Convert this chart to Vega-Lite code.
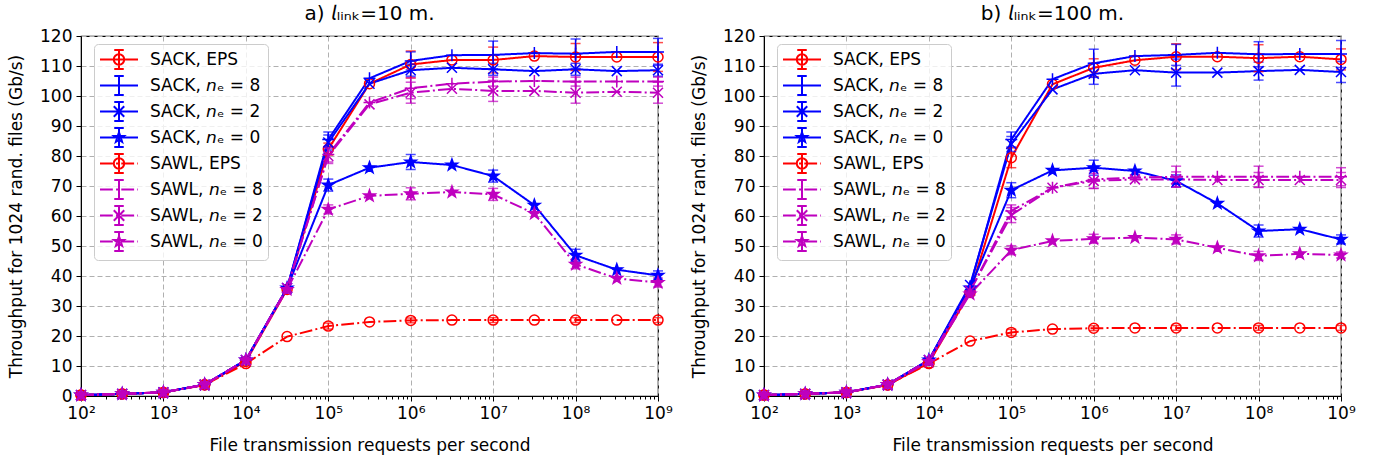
{
  "$schema": "https://vega.github.io/schema/vega-lite/v6.json",
  "padding": {"left": 6, "top": 3, "right": 5, "bottom": 5},
  "spacing": 16,
  "config": {
    "font": "DejaVu Sans",
    "view": {"stroke": "#000000", "strokeWidth": 1.2},
    "axis": {"labelFontSize": 17, "titleFontSize": 17, "titleFontWeight": "normal", "labelColor": "#000000", "titleColor": "#000000", "tickColor": "#000000", "domainColor": "#000000", "gridColor": "#b0b0b0", "gridDash": [5, 3], "gridWidth": 1, "tickSize": 5, "labelPadding": 4, "labelFont": "DejaVu Sans", "titleFont": "DejaVu Sans"},
    "title": {"fontSize": 20, "fontWeight": "normal", "color": "#000000", "font": "DejaVu Sans", "offset": 3}
  },
  "datasets": {
    "a": [
      {"s":"SACK, EPS","x":100,"y":0.3,"e":0.2},{"s":"SACK, EPS","x":316.2,"y":0.7},{"s":"SACK, EPS","x":1e3,"y":1.2,"e":0.3},{"s":"SACK, EPS","x":3162,"y":3.8},{"s":"SACK, EPS","x":1e4,"y":11.5,"e":0.6},{"s":"SACK, EPS","x":31623,"y":35.5},{"s":"SACK, EPS","x":1e5,"y":82.3,"e":2},{"s":"SACK, EPS","x":316228,"y":104.1},{"s":"SACK, EPS","x":1e6,"y":110.5,"e":4.5},{"s":"SACK, EPS","x":3162278,"y":112.0},{"s":"SACK, EPS","x":1e7,"y":112.0,"e":4.3},{"s":"SACK, EPS","x":31622777,"y":113.3},{"s":"SACK, EPS","x":1e8,"y":113.0,"e":4.5},{"s":"SACK, EPS","x":316227766,"y":113.0},{"s":"SACK, EPS","x":1e9,"y":113.0,"e":4.8},
      {"s":"SACK, 𝘯ₑ = 8","x":100,"y":0.3,"e":0.2},{"s":"SACK, 𝘯ₑ = 8","x":316.2,"y":0.7},{"s":"SACK, 𝘯ₑ = 8","x":1e3,"y":1.2,"e":0.3},{"s":"SACK, 𝘯ₑ = 8","x":3162,"y":3.8},{"s":"SACK, 𝘯ₑ = 8","x":1e4,"y":12.0,"e":0.6},{"s":"SACK, 𝘯ₑ = 8","x":31623,"y":36.0},{"s":"SACK, 𝘯ₑ = 8","x":1e5,"y":85.5,"e":2.5},{"s":"SACK, 𝘯ₑ = 8","x":316228,"y":105.9},{"s":"SACK, 𝘯ₑ = 8","x":1e6,"y":111.7,"e":3},{"s":"SACK, 𝘯ₑ = 8","x":3162278,"y":113.6},{"s":"SACK, 𝘯ₑ = 8","x":1e7,"y":113.7,"e":4.6},{"s":"SACK, 𝘯ₑ = 8","x":31622777,"y":114.3},{"s":"SACK, 𝘯ₑ = 8","x":1e8,"y":114.1,"e":4.9},{"s":"SACK, 𝘯ₑ = 8","x":316227766,"y":114.7},{"s":"SACK, 𝘯ₑ = 8","x":1e9,"y":114.7,"e":4.5},
      {"s":"SACK, 𝘯ₑ = 2","x":100,"y":0.3,"e":0.2},{"s":"SACK, 𝘯ₑ = 2","x":316.2,"y":0.7},{"s":"SACK, 𝘯ₑ = 2","x":1e3,"y":1.2,"e":0.3},{"s":"SACK, 𝘯ₑ = 2","x":3162,"y":3.8},{"s":"SACK, 𝘯ₑ = 2","x":1e4,"y":12.0,"e":0.6},{"s":"SACK, 𝘯ₑ = 2","x":31623,"y":36.0},{"s":"SACK, 𝘯ₑ = 2","x":1e5,"y":84.5,"e":2.5},{"s":"SACK, 𝘯ₑ = 2","x":316228,"y":104.1},{"s":"SACK, 𝘯ₑ = 2","x":1e6,"y":108.6,"e":2},{"s":"SACK, 𝘯ₑ = 2","x":3162278,"y":109.4},{"s":"SACK, 𝘯ₑ = 2","x":1e7,"y":108.9,"e":2},{"s":"SACK, 𝘯ₑ = 2","x":31622777,"y":108.3},{"s":"SACK, 𝘯ₑ = 2","x":1e8,"y":108.9,"e":2},{"s":"SACK, 𝘯ₑ = 2","x":316227766,"y":108.3},{"s":"SACK, 𝘯ₑ = 2","x":1e9,"y":108.6,"e":2},
      {"s":"SACK, 𝘯ₑ = 0","x":100,"y":0.3,"e":0.2},{"s":"SACK, 𝘯ₑ = 0","x":316.2,"y":0.7},{"s":"SACK, 𝘯ₑ = 0","x":1e3,"y":1.2,"e":0.3},{"s":"SACK, 𝘯ₑ = 0","x":3162,"y":3.8},{"s":"SACK, 𝘯ₑ = 0","x":1e4,"y":12.0,"e":0.6},{"s":"SACK, 𝘯ₑ = 0","x":31623,"y":36.0},{"s":"SACK, 𝘯ₑ = 0","x":1e5,"y":70.3,"e":2},{"s":"SACK, 𝘯ₑ = 0","x":316228,"y":76.1},{"s":"SACK, 𝘯ₑ = 0","x":1e6,"y":78.0,"e":2.5},{"s":"SACK, 𝘯ₑ = 0","x":3162278,"y":77.0},{"s":"SACK, 𝘯ₑ = 0","x":1e7,"y":73.3,"e":2},{"s":"SACK, 𝘯ₑ = 0","x":31622777,"y":63.6},{"s":"SACK, 𝘯ₑ = 0","x":1e8,"y":46.9,"e":2},{"s":"SACK, 𝘯ₑ = 0","x":316227766,"y":42.1},{"s":"SACK, 𝘯ₑ = 0","x":1e9,"y":40.2,"e":1.5},
      {"s":"SAWL, EPS","x":100,"y":0.3,"e":0.2},{"s":"SAWL, EPS","x":316.2,"y":0.7},{"s":"SAWL, EPS","x":1e3,"y":1.2,"e":0.3},{"s":"SAWL, EPS","x":3162,"y":3.7},{"s":"SAWL, EPS","x":1e4,"y":10.8,"e":0.5},{"s":"SAWL, EPS","x":31623,"y":19.8},{"s":"SAWL, EPS","x":1e5,"y":23.3,"e":1},{"s":"SAWL, EPS","x":316228,"y":24.7},{"s":"SAWL, EPS","x":1e6,"y":25.2,"e":0.8},{"s":"SAWL, EPS","x":3162278,"y":25.3},{"s":"SAWL, EPS","x":1e7,"y":25.3,"e":0.8},{"s":"SAWL, EPS","x":31622777,"y":25.3},{"s":"SAWL, EPS","x":1e8,"y":25.3,"e":0.8},{"s":"SAWL, EPS","x":316227766,"y":25.3},{"s":"SAWL, EPS","x":1e9,"y":25.3,"e":0.8},
      {"s":"SAWL, 𝘯ₑ = 8","x":100,"y":0.3,"e":0.2},{"s":"SAWL, 𝘯ₑ = 8","x":316.2,"y":0.7},{"s":"SAWL, 𝘯ₑ = 8","x":1e3,"y":1.2,"e":0.3},{"s":"SAWL, 𝘯ₑ = 8","x":3162,"y":3.8},{"s":"SAWL, 𝘯ₑ = 8","x":1e4,"y":12.0,"e":0.6},{"s":"SAWL, 𝘯ₑ = 8","x":31623,"y":36.0},{"s":"SAWL, 𝘯ₑ = 8","x":1e5,"y":80.5,"e":2.5},{"s":"SAWL, 𝘯ₑ = 8","x":316228,"y":97.8},{"s":"SAWL, 𝘯ₑ = 8","x":1e6,"y":102.6,"e":3.5},{"s":"SAWL, 𝘯ₑ = 8","x":3162278,"y":104.1},{"s":"SAWL, 𝘯ₑ = 8","x":1e7,"y":104.8,"e":1.5},{"s":"SAWL, 𝘯ₑ = 8","x":31622777,"y":105.0},{"s":"SAWL, 𝘯ₑ = 8","x":1e8,"y":104.8,"e":1.5},{"s":"SAWL, 𝘯ₑ = 8","x":316227766,"y":104.8},{"s":"SAWL, 𝘯ₑ = 8","x":1e9,"y":104.8,"e":1.5},
      {"s":"SAWL, 𝘯ₑ = 2","x":100,"y":0.3,"e":0.2},{"s":"SAWL, 𝘯ₑ = 2","x":316.2,"y":0.7},{"s":"SAWL, 𝘯ₑ = 2","x":1e3,"y":1.2,"e":0.3},{"s":"SAWL, 𝘯ₑ = 2","x":3162,"y":3.8},{"s":"SAWL, 𝘯ₑ = 2","x":1e4,"y":12.0,"e":0.6},{"s":"SAWL, 𝘯ₑ = 2","x":31623,"y":36.0},{"s":"SAWL, 𝘯ₑ = 2","x":1e5,"y":80.0,"e":2.5},{"s":"SAWL, 𝘯ₑ = 2","x":316228,"y":97.2},{"s":"SAWL, 𝘯ₑ = 2","x":1e6,"y":101.1,"e":3.5},{"s":"SAWL, 𝘯ₑ = 2","x":3162278,"y":102.4},{"s":"SAWL, 𝘯ₑ = 2","x":1e7,"y":101.7,"e":3.5},{"s":"SAWL, 𝘯ₑ = 2","x":31622777,"y":101.7},{"s":"SAWL, 𝘯ₑ = 2","x":1e8,"y":101.1,"e":3.5},{"s":"SAWL, 𝘯ₑ = 2","x":316227766,"y":101.4},{"s":"SAWL, 𝘯ₑ = 2","x":1e9,"y":101.1,"e":3.5},
      {"s":"SAWL, 𝘯ₑ = 0","x":100,"y":0.3,"e":0.2},{"s":"SAWL, 𝘯ₑ = 0","x":316.2,"y":0.7},{"s":"SAWL, 𝘯ₑ = 0","x":1e3,"y":1.2,"e":0.3},{"s":"SAWL, 𝘯ₑ = 0","x":3162,"y":3.8},{"s":"SAWL, 𝘯ₑ = 0","x":1e4,"y":12.0,"e":0.6},{"s":"SAWL, 𝘯ₑ = 0","x":31623,"y":35.5},{"s":"SAWL, 𝘯ₑ = 0","x":1e5,"y":62.2,"e":1.5},{"s":"SAWL, 𝘯ₑ = 0","x":316228,"y":66.7},{"s":"SAWL, 𝘯ₑ = 0","x":1e6,"y":67.4,"e":2},{"s":"SAWL, 𝘯ₑ = 0","x":3162278,"y":68.0},{"s":"SAWL, 𝘯ₑ = 0","x":1e7,"y":67.2,"e":2},{"s":"SAWL, 𝘯ₑ = 0","x":31622777,"y":60.8},{"s":"SAWL, 𝘯ₑ = 0","x":1e8,"y":43.9,"e":1.5},{"s":"SAWL, 𝘯ₑ = 0","x":316227766,"y":39.2},{"s":"SAWL, 𝘯ₑ = 0","x":1e9,"y":37.8,"e":1.5}
    ],
    "b": [
      {"s":"SACK, EPS","x":100,"y":0.3,"e":0.2},{"s":"SACK, EPS","x":316.2,"y":0.7},{"s":"SACK, EPS","x":1e3,"y":1.2,"e":0.3},{"s":"SACK, EPS","x":3162,"y":3.7},{"s":"SACK, EPS","x":1e4,"y":11.0,"e":0.6},{"s":"SACK, EPS","x":31623,"y":34.5},{"s":"SACK, EPS","x":1e5,"y":79.4,"e":3.3},{"s":"SACK, EPS","x":316228,"y":103.9},{"s":"SACK, EPS","x":1e6,"y":109.4,"e":3},{"s":"SACK, EPS","x":3162278,"y":111.9},{"s":"SACK, EPS","x":1e7,"y":113.1,"e":4.3},{"s":"SACK, EPS","x":31622777,"y":113.1},{"s":"SACK, EPS","x":1e8,"y":112.6,"e":4.5},{"s":"SACK, EPS","x":316227766,"y":113.1},{"s":"SACK, EPS","x":1e9,"y":112.2,"e":3.5},
      {"s":"SACK, 𝘯ₑ = 8","x":100,"y":0.3,"e":0.2},{"s":"SACK, 𝘯ₑ = 8","x":316.2,"y":0.7},{"s":"SACK, 𝘯ₑ = 8","x":1e3,"y":1.2,"e":0.3},{"s":"SACK, 𝘯ₑ = 8","x":3162,"y":3.8},{"s":"SACK, 𝘯ₑ = 8","x":1e4,"y":12.0,"e":0.6},{"s":"SACK, 𝘯ₑ = 8","x":31623,"y":36.5},{"s":"SACK, 𝘯ₑ = 8","x":1e5,"y":85.5,"e":2.5},{"s":"SACK, 𝘯ₑ = 8","x":316228,"y":105.6},{"s":"SACK, 𝘯ₑ = 8","x":1e6,"y":110.9,"e":4.7},{"s":"SACK, 𝘯ₑ = 8","x":3162278,"y":113.3},{"s":"SACK, 𝘯ₑ = 8","x":1e7,"y":113.7,"e":3.5},{"s":"SACK, 𝘯ₑ = 8","x":31622777,"y":114.4},{"s":"SACK, 𝘯ₑ = 8","x":1e8,"y":113.9,"e":4.2},{"s":"SACK, 𝘯ₑ = 8","x":316227766,"y":114.0},{"s":"SACK, 𝘯ₑ = 8","x":1e9,"y":114.0,"e":4.5},
      {"s":"SACK, 𝘯ₑ = 2","x":100,"y":0.3,"e":0.2},{"s":"SACK, 𝘯ₑ = 2","x":316.2,"y":0.7},{"s":"SACK, 𝘯ₑ = 2","x":1e3,"y":1.2,"e":0.3},{"s":"SACK, 𝘯ₑ = 2","x":3162,"y":3.8},{"s":"SACK, 𝘯ₑ = 2","x":1e4,"y":12.0,"e":0.6},{"s":"SACK, 𝘯ₑ = 2","x":31623,"y":37.0},{"s":"SACK, 𝘯ₑ = 2","x":1e5,"y":84.0,"e":2.5},{"s":"SACK, 𝘯ₑ = 2","x":316228,"y":102.2},{"s":"SACK, 𝘯ₑ = 2","x":1e6,"y":107.4,"e":3.5},{"s":"SACK, 𝘯ₑ = 2","x":3162278,"y":108.6},{"s":"SACK, 𝘯ₑ = 2","x":1e7,"y":107.8,"e":4.5},{"s":"SACK, 𝘯ₑ = 2","x":31622777,"y":107.8},{"s":"SACK, 𝘯ₑ = 2","x":1e8,"y":108.3,"e":3},{"s":"SACK, 𝘯ₑ = 2","x":316227766,"y":108.7},{"s":"SACK, 𝘯ₑ = 2","x":1e9,"y":108.0,"e":3.5},
      {"s":"SACK, 𝘯ₑ = 0","x":100,"y":0.3,"e":0.2},{"s":"SACK, 𝘯ₑ = 0","x":316.2,"y":0.7},{"s":"SACK, 𝘯ₑ = 0","x":1e3,"y":1.2,"e":0.3},{"s":"SACK, 𝘯ₑ = 0","x":3162,"y":3.8},{"s":"SACK, 𝘯ₑ = 0","x":1e4,"y":12.0,"e":0.6},{"s":"SACK, 𝘯ₑ = 0","x":31623,"y":36.0},{"s":"SACK, 𝘯ₑ = 0","x":1e5,"y":68.6,"e":2.5},{"s":"SACK, 𝘯ₑ = 0","x":316228,"y":75.2},{"s":"SACK, 𝘯ₑ = 0","x":1e6,"y":76.1,"e":2.5},{"s":"SACK, 𝘯ₑ = 0","x":3162278,"y":75.0},{"s":"SACK, 𝘯ₑ = 0","x":1e7,"y":71.7,"e":2},{"s":"SACK, 𝘯ₑ = 0","x":31622777,"y":64.2},{"s":"SACK, 𝘯ₑ = 0","x":1e8,"y":55.0,"e":2},{"s":"SACK, 𝘯ₑ = 0","x":316227766,"y":55.6},{"s":"SACK, 𝘯ₑ = 0","x":1e9,"y":52.2,"e":1.5},
      {"s":"SAWL, EPS","x":100,"y":0.3,"e":0.2},{"s":"SAWL, EPS","x":316.2,"y":0.7},{"s":"SAWL, EPS","x":1e3,"y":1.2,"e":0.3},{"s":"SAWL, EPS","x":3162,"y":3.7},{"s":"SAWL, EPS","x":1e4,"y":10.8,"e":0.5},{"s":"SAWL, EPS","x":31623,"y":18.3},{"s":"SAWL, EPS","x":1e5,"y":21.2,"e":1},{"s":"SAWL, EPS","x":316228,"y":22.3},{"s":"SAWL, EPS","x":1e6,"y":22.6,"e":0.8},{"s":"SAWL, EPS","x":3162278,"y":22.7},{"s":"SAWL, EPS","x":1e7,"y":22.7,"e":0.8},{"s":"SAWL, EPS","x":31622777,"y":22.7},{"s":"SAWL, EPS","x":1e8,"y":22.7,"e":0.8},{"s":"SAWL, EPS","x":316227766,"y":22.7},{"s":"SAWL, EPS","x":1e9,"y":22.7,"e":0.8},
      {"s":"SAWL, 𝘯ₑ = 8","x":100,"y":0.3,"e":0.2},{"s":"SAWL, 𝘯ₑ = 8","x":316.2,"y":0.7},{"s":"SAWL, 𝘯ₑ = 8","x":1e3,"y":1.2,"e":0.3},{"s":"SAWL, 𝘯ₑ = 8","x":3162,"y":3.8},{"s":"SAWL, 𝘯ₑ = 8","x":1e4,"y":12.0,"e":0.6},{"s":"SAWL, 𝘯ₑ = 8","x":31623,"y":35.0},{"s":"SAWL, 𝘯ₑ = 8","x":1e5,"y":61.7,"e":2},{"s":"SAWL, 𝘯ₑ = 8","x":316228,"y":69.4},{"s":"SAWL, 𝘯ₑ = 8","x":1e6,"y":72.2,"e":3},{"s":"SAWL, 𝘯ₑ = 8","x":3162278,"y":72.8},{"s":"SAWL, 𝘯ₑ = 8","x":1e7,"y":73.1,"e":3.5},{"s":"SAWL, 𝘯ₑ = 8","x":31622777,"y":73.1},{"s":"SAWL, 𝘯ₑ = 8","x":1e8,"y":73.1,"e":3.5},{"s":"SAWL, 𝘯ₑ = 8","x":316227766,"y":73.1},{"s":"SAWL, 𝘯ₑ = 8","x":1e9,"y":73.1,"e":3},
      {"s":"SAWL, 𝘯ₑ = 2","x":100,"y":0.3,"e":0.2},{"s":"SAWL, 𝘯ₑ = 2","x":316.2,"y":0.7},{"s":"SAWL, 𝘯ₑ = 2","x":1e3,"y":1.2,"e":0.3},{"s":"SAWL, 𝘯ₑ = 2","x":3162,"y":3.8},{"s":"SAWL, 𝘯ₑ = 2","x":1e4,"y":12.0,"e":0.6},{"s":"SAWL, 𝘯ₑ = 2","x":31623,"y":35.0},{"s":"SAWL, 𝘯ₑ = 2","x":1e5,"y":60.3,"e":2.5},{"s":"SAWL, 𝘯ₑ = 2","x":316228,"y":69.4},{"s":"SAWL, 𝘯ₑ = 2","x":1e6,"y":71.7,"e":2.5},{"s":"SAWL, 𝘯ₑ = 2","x":3162278,"y":72.2},{"s":"SAWL, 𝘯ₑ = 2","x":1e7,"y":72.2,"e":2.5},{"s":"SAWL, 𝘯ₑ = 2","x":31622777,"y":72.0},{"s":"SAWL, 𝘯ₑ = 2","x":1e8,"y":72.0,"e":2.5},{"s":"SAWL, 𝘯ₑ = 2","x":316227766,"y":72.0},{"s":"SAWL, 𝘯ₑ = 2","x":1e9,"y":72.0,"e":2.5},
      {"s":"SAWL, 𝘯ₑ = 0","x":100,"y":0.3,"e":0.2},{"s":"SAWL, 𝘯ₑ = 0","x":316.2,"y":0.7},{"s":"SAWL, 𝘯ₑ = 0","x":1e3,"y":1.2,"e":0.3},{"s":"SAWL, 𝘯ₑ = 0","x":3162,"y":3.8},{"s":"SAWL, 𝘯ₑ = 0","x":1e4,"y":11.5,"e":0.6},{"s":"SAWL, 𝘯ₑ = 0","x":31623,"y":34.0},{"s":"SAWL, 𝘯ₑ = 0","x":1e5,"y":48.6,"e":1.5},{"s":"SAWL, 𝘯ₑ = 0","x":316228,"y":51.7},{"s":"SAWL, 𝘯ₑ = 0","x":1e6,"y":52.4,"e":1.5},{"s":"SAWL, 𝘯ₑ = 0","x":3162278,"y":52.8},{"s":"SAWL, 𝘯ₑ = 0","x":1e7,"y":52.2,"e":1.5},{"s":"SAWL, 𝘯ₑ = 0","x":31622777,"y":49.4},{"s":"SAWL, 𝘯ₑ = 0","x":1e8,"y":46.7,"e":1.5},{"s":"SAWL, 𝘯ₑ = 0","x":316227766,"y":47.4},{"s":"SAWL, 𝘯ₑ = 0","x":1e9,"y":47.0,"e":1}
    ]
  },
  "resolve": {"scale": {"color": "independent", "shape": "independent", "fill": "independent", "strokeDash": "independent"}, "legend": {"color": "independent", "shape": "independent"}},
  "hconcat": [
    {
      "width": 577, "height": 360,
      "title": "a) 𝘭ₗᵢₙₖ=10 m.",
      "data": {"name": "a"},
      "resolve": {"scale": {"color": "independent", "shape": "independent"}},
      "encoding": {
        "x": {"field": "x", "type": "quantitative", "scale": {"type": "log", "domain": [100, 1e9]},
          "axis": {"title": "File transmission requests per second", "titlePadding": 16,
            "values": [100,200,300,400,500,600,700,800,900,1e3,2e3,3e3,4e3,5e3,6e3,7e3,8e3,9e3,1e4,2e4,3e4,4e4,5e4,6e4,7e4,8e4,9e4,1e5,2e5,3e5,4e5,5e5,6e5,7e5,8e5,9e5,1e6,2e6,3e6,4e6,5e6,6e6,7e6,8e6,9e6,1e7,2e7,3e7,4e7,5e7,6e7,7e7,8e7,9e7,1e8,2e8,3e8,4e8,5e8,6e8,7e8,8e8,9e8,1e9],
            "labelExpr": "abs(log(datum.value)/LN10 - round(log(datum.value)/LN10)) < 0.001 ? '10' + ['⁰','¹','²','³','⁴','⁵','⁶','⁷','⁸','⁹'][round(log(datum.value)/LN10)] : ''",
            "labelFlush": false, "labelOverlap": false,
            "tickSize": {"condition": {"test": "abs(log(datum.value)/LN10 - round(log(datum.value)/LN10)) < 0.001", "value": 5}, "value": 3},
            "gridOpacity": {"condition": {"test": "abs(log(datum.value)/LN10 - round(log(datum.value)/LN10)) < 0.001", "value": 1}, "value": 0}}},
        "y": {"field": "y", "type": "quantitative", "scale": {"domain": [0, 120], "nice": false},
          "axis": {"title": "Throughput for 1024 rand. files (Gb/s)", "values": [0,10,20,30,40,50,60,70,80,90,100,110,120], "titlePadding": 14}}
      },
      "layer": [
        {"mark": {"type": "line", "strokeWidth": 2},
          "encoding": {
            "color": {"field": "s", "type": "nominal", "legend": null, "scale": {"domain": ["SACK, EPS","SACK, 𝘯ₑ = 8","SACK, 𝘯ₑ = 2","SACK, 𝘯ₑ = 0","SAWL, EPS","SAWL, 𝘯ₑ = 8","SAWL, 𝘯ₑ = 2","SAWL, 𝘯ₑ = 0"], "range": ["#ff0000","#0000ff","#0000ff","#0000ff","#ff0000","#bf00bf","#bf00bf","#bf00bf"]}},
            "strokeDash": {"field": "s", "type": "nominal", "legend": null, "scale": {"domain": ["SACK, EPS","SACK, 𝘯ₑ = 8","SACK, 𝘯ₑ = 2","SACK, 𝘯ₑ = 0","SAWL, EPS","SAWL, 𝘯ₑ = 8","SAWL, 𝘯ₑ = 2","SAWL, 𝘯ₑ = 0"], "range": [[1,0],[1,0],[1,0],[1,0],[12.8,3.2,2,3.2],[12.8,3.2,2,3.2],[12.8,3.2,2,3.2],[12.8,3.2,2,3.2]]}}
          }},
        {"transform": [{"filter": "isValid(datum.e)"}],
          "mark": {"type": "errorbar", "ticks": {"size": 10}, "thickness": 1.5},
          "encoding": {"yError": {"field": "e"}, "color": {"field": "s", "type": "nominal", "legend": null, "scale": {"domain": ["SACK, EPS","SACK, 𝘯ₑ = 8","SACK, 𝘯ₑ = 2","SACK, 𝘯ₑ = 0","SAWL, EPS","SAWL, 𝘯ₑ = 8","SAWL, 𝘯ₑ = 2","SAWL, 𝘯ₑ = 0"], "range": ["#ff0000","#0000ff","#0000ff","#0000ff","#ff0000","#bf00bf","#bf00bf","#bf00bf"]}}}},
        {"mark": {"type": "point", "filled": false, "size": 100, "strokeWidth": 1.5, "opacity": 1},
          "encoding": {
            "shape": {"field": "s", "type": "nominal", "legend": null, "scale": {"domain": ["SACK, EPS","SACK, 𝘯ₑ = 8","SACK, 𝘯ₑ = 2","SACK, 𝘯ₑ = 0","SAWL, EPS","SAWL, 𝘯ₑ = 8","SAWL, 𝘯ₑ = 2","SAWL, 𝘯ₑ = 0"], "range": ["circle","M-1.2,0L1.2,0M0,-1.2L0,1.2","M-1,-1L1,1M-1,1L1,-1","M0,-1.2L0.282,-0.388L1.141,-0.371L0.456,0.148L0.705,0.971L0,0.48L-0.705,0.971L-0.456,0.148L-1.141,-0.371L-0.282,-0.388Z","circle","M-1.2,0L1.2,0M0,-1.2L0,1.2","M-1,-1L1,1M-1,1L1,-1","M0,-1.2L0.282,-0.388L1.141,-0.371L0.456,0.148L0.705,0.971L0,0.48L-0.705,0.971L-0.456,0.148L-1.141,-0.371L-0.282,-0.388Z"]}},
            "fill": {"field": "s", "type": "nominal", "legend": null, "scale": {"domain": ["SACK, EPS","SACK, 𝘯ₑ = 8","SACK, 𝘯ₑ = 2","SACK, 𝘯ₑ = 0","SAWL, EPS","SAWL, 𝘯ₑ = 8","SAWL, 𝘯ₑ = 2","SAWL, 𝘯ₑ = 0"], "range": ["transparent","transparent","transparent","#0000ff","transparent","transparent","transparent","#bf00bf"]}},
            "color": {"field": "s", "type": "nominal", "legend": null, "scale": {"domain": ["SACK, EPS","SACK, 𝘯ₑ = 8","SACK, 𝘯ₑ = 2","SACK, 𝘯ₑ = 0","SAWL, EPS","SAWL, 𝘯ₑ = 8","SAWL, 𝘯ₑ = 2","SAWL, 𝘯ₑ = 0"], "range": ["#ff0000","#0000ff","#0000ff","#0000ff","#ff0000","#bf00bf","#bf00bf","#bf00bf"]}}
          }},
        {"transform": [{"filter": "false"}],
          "mark": {"type": "point", "filled": false, "strokeWidth": 2, "opacity": 1},
          "encoding": {
            "shape": {"field": "s", "type": "nominal", "scale": {"domain": ["SACK, EPS","SACK, 𝘯ₑ = 8","SACK, 𝘯ₑ = 2","SACK, 𝘯ₑ = 0","SAWL, EPS","SAWL, 𝘯ₑ = 8","SAWL, 𝘯ₑ = 2","SAWL, 𝘯ₑ = 0"], "range": ["M-1,0L3,0M0.45,0A0.55,0.55 0 1,0 1.55,0A0.55,0.55 0 1,0 0.45,0M1,-1L1,1M0.5,-1L1.5,-1M0.5,1L1.5,1","M-1,0L3,0M1,-1L1,1M0.5,-1L1.5,-1M0.5,1L1.5,1","M-1,0L3,0M0.45,-0.55L1.55,0.55M0.45,0.55L1.55,-0.55M1,-1L1,1M0.5,-1L1.5,-1M0.5,1L1.5,1","M-1,0L3,0M1,-0.55L1.129,-0.178L1.523,-0.17L1.209,0.068L1.323,0.445L1,0.22L0.677,0.445L0.791,0.068L0.477,-0.17L0.871,-0.178ZM1,-1L1,1M0.5,-1L1.5,-1M0.5,1L1.5,1","M-1,0L0.35,0M0.69,0L0.9,0M1.24,0L2.59,0M2.93,0L3,0M0.45,0A0.55,0.55 0 1,0 1.55,0A0.55,0.55 0 1,0 0.45,0M1,-1L1,1M0.5,-1L1.5,-1M0.5,1L1.5,1","M-1,0L0.35,0M0.69,0L0.9,0M1.24,0L2.59,0M2.93,0L3,0M1,-1L1,1M0.5,-1L1.5,-1M0.5,1L1.5,1","M-1,0L0.35,0M0.69,0L0.9,0M1.24,0L2.59,0M2.93,0L3,0M0.45,-0.55L1.55,0.55M0.45,0.55L1.55,-0.55M1,-1L1,1M0.5,-1L1.5,-1M0.5,1L1.5,1","M-1,0L0.35,0M0.69,0L0.9,0M1.24,0L2.59,0M2.93,0L3,0M1,-0.55L1.129,-0.178L1.523,-0.17L1.209,0.068L1.323,0.445L1,0.22L0.677,0.445L0.791,0.068L0.477,-0.17L0.871,-0.178ZM1,-1L1,1M0.5,-1L1.5,-1M0.5,1L1.5,1"]}},
            "color": {"field": "s", "type": "nominal", "scale": {"domain": ["SACK, EPS","SACK, 𝘯ₑ = 8","SACK, 𝘯ₑ = 2","SACK, 𝘯ₑ = 0","SAWL, EPS","SAWL, 𝘯ₑ = 8","SAWL, 𝘯ₑ = 2","SAWL, 𝘯ₑ = 0"], "range": ["#ff0000","#0000ff","#0000ff","#0000ff","#ff0000","#bf00bf","#bf00bf","#bf00bf"]},
              "legend": {"title": null, "orient": "none", "legendX": 13, "legendY": 8, "fillColor": "rgba(255,255,255,0.8)", "strokeColor": "#cccccc", "cornerRadius": 4, "padding": 5, "labelFontSize": 17, "labelColor": "#000000", "labelFont": "DejaVu Sans", "labelOffset": 30, "rowPadding": -1, "symbolSize": 361, "symbolStrokeWidth": 2, "symbolFillColor": "transparent", "symbolOpacity": 1}}
          }}
      ]
    },
    {
      "width": 577, "height": 360,
      "title": "b) 𝘭ₗᵢₙₖ=100 m.",
      "data": {"name": "b"},
      "resolve": {"scale": {"color": "independent", "shape": "independent"}},
      "encoding": {
        "x": {"field": "x", "type": "quantitative", "scale": {"type": "log", "domain": [100, 1e9]},
          "axis": {"title": "File transmission requests per second", "titlePadding": 16,
            "values": [100,200,300,400,500,600,700,800,900,1e3,2e3,3e3,4e3,5e3,6e3,7e3,8e3,9e3,1e4,2e4,3e4,4e4,5e4,6e4,7e4,8e4,9e4,1e5,2e5,3e5,4e5,5e5,6e5,7e5,8e5,9e5,1e6,2e6,3e6,4e6,5e6,6e6,7e6,8e6,9e6,1e7,2e7,3e7,4e7,5e7,6e7,7e7,8e7,9e7,1e8,2e8,3e8,4e8,5e8,6e8,7e8,8e8,9e8,1e9],
            "labelExpr": "abs(log(datum.value)/LN10 - round(log(datum.value)/LN10)) < 0.001 ? '10' + ['⁰','¹','²','³','⁴','⁵','⁶','⁷','⁸','⁹'][round(log(datum.value)/LN10)] : ''",
            "labelFlush": false, "labelOverlap": false,
            "tickSize": {"condition": {"test": "abs(log(datum.value)/LN10 - round(log(datum.value)/LN10)) < 0.001", "value": 5}, "value": 3},
            "gridOpacity": {"condition": {"test": "abs(log(datum.value)/LN10 - round(log(datum.value)/LN10)) < 0.001", "value": 1}, "value": 0}}},
        "y": {"field": "y", "type": "quantitative", "scale": {"domain": [0, 120], "nice": false},
          "axis": {"title": "Throughput for 1024 rand. files (Gb/s)", "values": [0,10,20,30,40,50,60,70,80,90,100,110,120], "titlePadding": 14}}
      },
      "layer": [
        {"mark": {"type": "line", "strokeWidth": 2},
          "encoding": {
            "color": {"field": "s", "type": "nominal", "legend": null, "scale": {"domain": ["SACK, EPS","SACK, 𝘯ₑ = 8","SACK, 𝘯ₑ = 2","SACK, 𝘯ₑ = 0","SAWL, EPS","SAWL, 𝘯ₑ = 8","SAWL, 𝘯ₑ = 2","SAWL, 𝘯ₑ = 0"], "range": ["#ff0000","#0000ff","#0000ff","#0000ff","#ff0000","#bf00bf","#bf00bf","#bf00bf"]}},
            "strokeDash": {"field": "s", "type": "nominal", "legend": null, "scale": {"domain": ["SACK, EPS","SACK, 𝘯ₑ = 8","SACK, 𝘯ₑ = 2","SACK, 𝘯ₑ = 0","SAWL, EPS","SAWL, 𝘯ₑ = 8","SAWL, 𝘯ₑ = 2","SAWL, 𝘯ₑ = 0"], "range": [[1,0],[1,0],[1,0],[1,0],[12.8,3.2,2,3.2],[12.8,3.2,2,3.2],[12.8,3.2,2,3.2],[12.8,3.2,2,3.2]]}}
          }},
        {"transform": [{"filter": "isValid(datum.e)"}],
          "mark": {"type": "errorbar", "ticks": {"size": 10}, "thickness": 1.5},
          "encoding": {"yError": {"field": "e"}, "color": {"field": "s", "type": "nominal", "legend": null, "scale": {"domain": ["SACK, EPS","SACK, 𝘯ₑ = 8","SACK, 𝘯ₑ = 2","SACK, 𝘯ₑ = 0","SAWL, EPS","SAWL, 𝘯ₑ = 8","SAWL, 𝘯ₑ = 2","SAWL, 𝘯ₑ = 0"], "range": ["#ff0000","#0000ff","#0000ff","#0000ff","#ff0000","#bf00bf","#bf00bf","#bf00bf"]}}}},
        {"mark": {"type": "point", "filled": false, "size": 100, "strokeWidth": 1.5, "opacity": 1},
          "encoding": {
            "shape": {"field": "s", "type": "nominal", "legend": null, "scale": {"domain": ["SACK, EPS","SACK, 𝘯ₑ = 8","SACK, 𝘯ₑ = 2","SACK, 𝘯ₑ = 0","SAWL, EPS","SAWL, 𝘯ₑ = 8","SAWL, 𝘯ₑ = 2","SAWL, 𝘯ₑ = 0"], "range": ["circle","M-1.2,0L1.2,0M0,-1.2L0,1.2","M-1,-1L1,1M-1,1L1,-1","M0,-1.2L0.282,-0.388L1.141,-0.371L0.456,0.148L0.705,0.971L0,0.48L-0.705,0.971L-0.456,0.148L-1.141,-0.371L-0.282,-0.388Z","circle","M-1.2,0L1.2,0M0,-1.2L0,1.2","M-1,-1L1,1M-1,1L1,-1","M0,-1.2L0.282,-0.388L1.141,-0.371L0.456,0.148L0.705,0.971L0,0.48L-0.705,0.971L-0.456,0.148L-1.141,-0.371L-0.282,-0.388Z"]}},
            "fill": {"field": "s", "type": "nominal", "legend": null, "scale": {"domain": ["SACK, EPS","SACK, 𝘯ₑ = 8","SACK, 𝘯ₑ = 2","SACK, 𝘯ₑ = 0","SAWL, EPS","SAWL, 𝘯ₑ = 8","SAWL, 𝘯ₑ = 2","SAWL, 𝘯ₑ = 0"], "range": ["transparent","transparent","transparent","#0000ff","transparent","transparent","transparent","#bf00bf"]}},
            "color": {"field": "s", "type": "nominal", "legend": null, "scale": {"domain": ["SACK, EPS","SACK, 𝘯ₑ = 8","SACK, 𝘯ₑ = 2","SACK, 𝘯ₑ = 0","SAWL, EPS","SAWL, 𝘯ₑ = 8","SAWL, 𝘯ₑ = 2","SAWL, 𝘯ₑ = 0"], "range": ["#ff0000","#0000ff","#0000ff","#0000ff","#ff0000","#bf00bf","#bf00bf","#bf00bf"]}}
          }},
        {"transform": [{"filter": "false"}],
          "mark": {"type": "point", "filled": false, "strokeWidth": 2, "opacity": 1},
          "encoding": {
            "shape": {"field": "s", "type": "nominal", "scale": {"domain": ["SACK, EPS","SACK, 𝘯ₑ = 8","SACK, 𝘯ₑ = 2","SACK, 𝘯ₑ = 0","SAWL, EPS","SAWL, 𝘯ₑ = 8","SAWL, 𝘯ₑ = 2","SAWL, 𝘯ₑ = 0"], "range": ["M-1,0L3,0M0.45,0A0.55,0.55 0 1,0 1.55,0A0.55,0.55 0 1,0 0.45,0M1,-1L1,1M0.5,-1L1.5,-1M0.5,1L1.5,1","M-1,0L3,0M1,-1L1,1M0.5,-1L1.5,-1M0.5,1L1.5,1","M-1,0L3,0M0.45,-0.55L1.55,0.55M0.45,0.55L1.55,-0.55M1,-1L1,1M0.5,-1L1.5,-1M0.5,1L1.5,1","M-1,0L3,0M1,-0.55L1.129,-0.178L1.523,-0.17L1.209,0.068L1.323,0.445L1,0.22L0.677,0.445L0.791,0.068L0.477,-0.17L0.871,-0.178ZM1,-1L1,1M0.5,-1L1.5,-1M0.5,1L1.5,1","M-1,0L0.35,0M0.69,0L0.9,0M1.24,0L2.59,0M2.93,0L3,0M0.45,0A0.55,0.55 0 1,0 1.55,0A0.55,0.55 0 1,0 0.45,0M1,-1L1,1M0.5,-1L1.5,-1M0.5,1L1.5,1","M-1,0L0.35,0M0.69,0L0.9,0M1.24,0L2.59,0M2.93,0L3,0M1,-1L1,1M0.5,-1L1.5,-1M0.5,1L1.5,1","M-1,0L0.35,0M0.69,0L0.9,0M1.24,0L2.59,0M2.93,0L3,0M0.45,-0.55L1.55,0.55M0.45,0.55L1.55,-0.55M1,-1L1,1M0.5,-1L1.5,-1M0.5,1L1.5,1","M-1,0L0.35,0M0.69,0L0.9,0M1.24,0L2.59,0M2.93,0L3,0M1,-0.55L1.129,-0.178L1.523,-0.17L1.209,0.068L1.323,0.445L1,0.22L0.677,0.445L0.791,0.068L0.477,-0.17L0.871,-0.178ZM1,-1L1,1M0.5,-1L1.5,-1M0.5,1L1.5,1"]}},
            "color": {"field": "s", "type": "nominal", "scale": {"domain": ["SACK, EPS","SACK, 𝘯ₑ = 8","SACK, 𝘯ₑ = 2","SACK, 𝘯ₑ = 0","SAWL, EPS","SAWL, 𝘯ₑ = 8","SAWL, 𝘯ₑ = 2","SAWL, 𝘯ₑ = 0"], "range": ["#ff0000","#0000ff","#0000ff","#0000ff","#ff0000","#bf00bf","#bf00bf","#bf00bf"]},
              "legend": {"title": null, "orient": "none", "legendX": 13, "legendY": 8, "fillColor": "rgba(255,255,255,0.8)", "strokeColor": "#cccccc", "cornerRadius": 4, "padding": 5, "labelFontSize": 17, "labelColor": "#000000", "labelFont": "DejaVu Sans", "labelOffset": 30, "rowPadding": -1, "symbolSize": 361, "symbolStrokeWidth": 2, "symbolFillColor": "transparent", "symbolOpacity": 1}}
          }}
      ]
    }
  ]
}
